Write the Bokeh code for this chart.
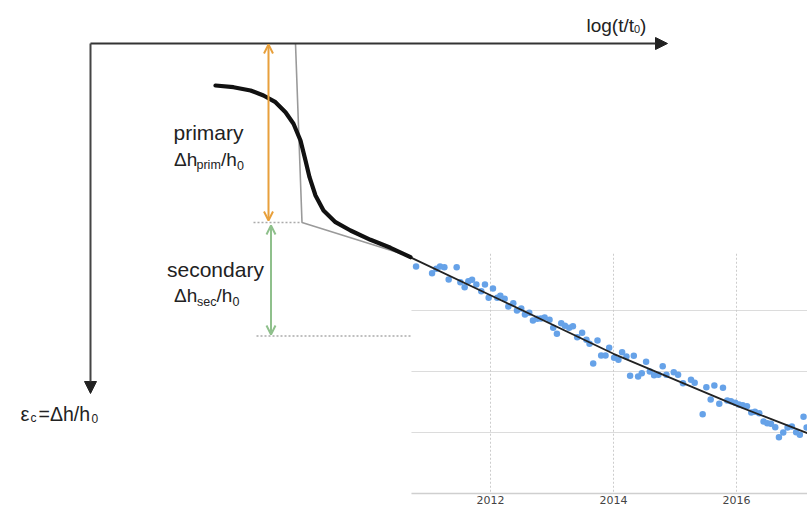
from bokeh.plotting import figure
from bokeh.models import Range1d, Arrow, NormalHead, OpenHead
from bokeh.core.properties import value
from bokeh.embed import file_html
from bokeh.resources import INLINE

# ---------------- data: measured settlement series (inset) ----------------
years = [2010.79, 2011.05, 2011.12, 2011.18, 2011.25, 2011.32, 2011.45, 2011.51, 2011.58, 2011.64,
         2011.70, 2011.77, 2011.85, 2011.91, 2011.97, 2012.04, 2012.11, 2012.16, 2012.23, 2012.29,
         2012.37, 2012.43, 2012.50, 2012.56, 2012.63, 2012.69, 2012.76, 2012.82, 2012.88, 2012.96,
         2013.02, 2013.08, 2013.15, 2013.21, 2013.28, 2013.34, 2013.41, 2013.49, 2013.56, 2013.61,
         2013.67, 2013.74, 2013.80, 2013.87, 2013.93, 2014.01, 2014.08, 2014.14, 2014.21, 2014.27,
         2014.33, 2014.40, 2014.46, 2014.53, 2014.59, 2014.66, 2014.73, 2014.80, 2014.86, 2014.98,
         2015.05, 2015.13, 2015.26, 2015.32, 2015.45, 2015.51, 2015.58, 2015.64, 2015.72, 2015.78,
         2015.85, 2015.91, 2015.98, 2016.04, 2016.10, 2016.17, 2016.24, 2016.30, 2016.37, 2016.44,
         2016.50, 2016.56, 2016.63, 2016.69, 2016.76, 2016.83, 2016.90, 2016.97, 2017.03, 2017.09,
         2017.14]
values = [7.21, 6.12, 6.83, 7.21, 7.10, 5.08, 7.10, 4.64, 3.83, 4.81,
          5.03, 4.26, 3.17, 4.26, 2.08, 3.61, 2.08, 2.40, 1.91, 0.66,
          1.20, 0.00, 0.33, -0.66, -0.38, -1.64, -1.37, -1.31, -1.15, -1.53,
          -2.84, -3.83, -2.08, -2.51, -2.84, -2.57, -4.37, -3.66, -4.81, -5.46,
          -8.69, -4.92, -7.38, -7.38, -6.12, -7.76, -8.09, -6.83, -7.54, -10.71,
          -7.43, -10.82, -10.27, -8.42, -10.00, -10.60, -10.55, -9.13, -10.55, -10.11,
          -10.55, -11.91, -11.37, -11.86, -16.99, -12.57, -14.59, -12.30, -15.30, -12.68,
          -14.75, -14.86, -15.14, -15.41, -15.52, -15.68, -16.72, -16.61, -16.83, -18.20,
          -18.47, -18.58, -19.13, -20.77, -20.00, -19.18, -19.02, -19.95, -20.38, -17.43,
          -19.18]

# fitted secondary-compression trend through the series
trend_years = [2010.70, 2012.0, 2014.0, 2016.0, 2017.2]
trend_values = [8.7, 2.5, -7.1, -15.6, -20.3]

# inset axis: ticks and grid values
tick_years = [2012, 2014, 2016]
tick_labels = ["2012", "2014", "2016"]
grid_values = [0, -10, -20]
axis_value = -30

# ---------------- schematic consolidation curve (diagram units) ----------------
curve_x = [215, 233, 250, 263, 275, 285, 293, 300, 305, 309, 315, 323, 335, 350, 370, 390, 410]
curve_y = [85, 86.7, 90, 95, 101.7, 111.7, 123.3, 140, 160, 176.7, 195, 210, 221.7, 230, 239.3, 247.3, 256.7]
# tangent construction (end of primary)
constr_x = [295, 301.5, 410]
constr_y = [43, 222, 256]

# ---------------- layout ----------------
W, H = 807, 510
# inset scale: 2012 at x=490, 61.5 px per year; value 0 at y=310, 6.1 px per unit
def yr_at(px):
    return 2012 + (px - 490) / 61.5
def val_at(py):
    return (310 - py) / 6.1

p = figure(width=W, height=H, output_backend="svg", toolbar_location=None,
           x_range=Range1d(0, W), y_range=Range1d(H, 0),
           x_axis_location=None, y_axis_location=None, min_border=0)
p.xgrid.visible = False
p.ygrid.visible = False
p.outline_line_color = None
p.background_fill_color = "white"
p.border_fill_color = "white"
p.extra_x_ranges = {"yr": Range1d(yr_at(0), yr_at(W))}
p.extra_y_ranges = {"val": Range1d(val_at(H), val_at(0))}

INSET_Y0 = 2010.715
INSET_Y1 = 2017.3
# inset grid
p.segment(x0=[INSET_Y0] * len(grid_values), x1=[INSET_Y1] * len(grid_values),
          y0=grid_values, y1=grid_values, x_range_name="yr", y_range_name="val",
          line_color="#dcdcdc", line_width=1.2)
p.segment(x0=[INSET_Y0], x1=[INSET_Y1], y0=[axis_value], y1=[axis_value],
          x_range_name="yr", y_range_name="val", line_color="#cfcfcf", line_width=1.5)
p.segment(x0=tick_years, x1=tick_years, y0=[9.3] * len(tick_years), y1=[axis_value] * len(tick_years),
          x_range_name="yr", y_range_name="val", line_color="#cccccc", line_width=1, line_dash="2 2")
p.text(x=tick_years, y=[499.5] * len(tick_years), text=tick_labels, x_range_name="yr",
       text_font=value("DejaVu Sans"), text_font_size="11px", text_color="#444444",
       text_align="center", text_baseline="middle")

# inset scatter + trend
p.scatter(x=years, y=values, x_range_name="yr", y_range_name="val",
          size=6.5, fill_color="#66a2e8", line_color=None)
p.line(x=trend_years, y=trend_values, x_range_name="yr", y_range_name="val",
       line_color="#222222", line_width=1.8)

# dotted reference lines
p.segment(x0=[253, 256], x1=[301, 410], y0=[222, 335.5], y1=[222, 335.5],
          line_color="#aaaaaa", line_width=1.5, line_dash="2 2")

# construction line
p.line(x=constr_x, y=constr_y, line_color="#9a9a9a", line_width=1.6)

# schematic curve
p.line(x=curve_x, y=curve_y, line_color="#111111", line_width=4.2,
       line_join="round", line_cap="round")

# axes of schematic
p.add_layout(Arrow(end=NormalHead(size=12, fill_color="#222222", line_color="#222222"),
                   x_start=90, y_start=43, x_end=667, y_end=43,
                   line_color="#333333", line_width=2))
p.add_layout(Arrow(end=NormalHead(size=12, fill_color="#222222", line_color="#222222"),
                   x_start=90, y_start=43, x_end=90, y_end=393,
                   line_color="#444444", line_width=2))

# primary / secondary double arrows
ORANGE = "#e8a03c"
GREEN = "#8fc08c"
p.add_layout(Arrow(start=OpenHead(size=9, line_color=ORANGE, line_width=2),
                   end=OpenHead(size=9, line_color=ORANGE, line_width=2),
                   x_start=268, y_start=44, x_end=268, y_end=220,
                   line_color=ORANGE, line_width=2))
p.add_layout(Arrow(start=OpenHead(size=9, line_color=GREEN, line_width=2),
                   end=OpenHead(size=9, line_color=GREEN, line_width=2),
                   x_start=270.5, y_start=225, x_end=270.5, y_end=334,
                   line_color=GREEN, line_width=2))

# texts
FONT = value("Liberation Sans")
TXT = "#222222"
def put(x, y, s, size):
    p.text(x=[x], y=[y], text=[s], text_font=FONT, text_font_size=f"{size}px",
           text_color=TXT, text_align="left", text_baseline="alphabetic")

put(586, 25, "log(t/t", 19)
put(633.5, 28.5, "0", 11)
put(639.5, 25, ")", 19)

put(20, 413, "\u03b5", 20)
put(30, 417, "c", 12)
put(38, 413, "=\u0394h/h", 19.5)
put(91, 418, "0", 12)

put(173, 131.5, "primary", 21)
put(173.5, 158.5, "\u0394h", 19)
put(196, 164.5, "prim", 12.5)
put(220.5, 158.5, "/h", 19)
put(236.5, 164.5, "0", 12.5)

put(166.5, 269, "secondary", 21)
put(173.5, 295, "\u0394h", 19)
put(196.5, 301, "sec", 12.5)
put(216, 295, "/h", 19)
put(232, 301, "0", 12.5)

open("out.html", "w").write(file_html(p, INLINE))
